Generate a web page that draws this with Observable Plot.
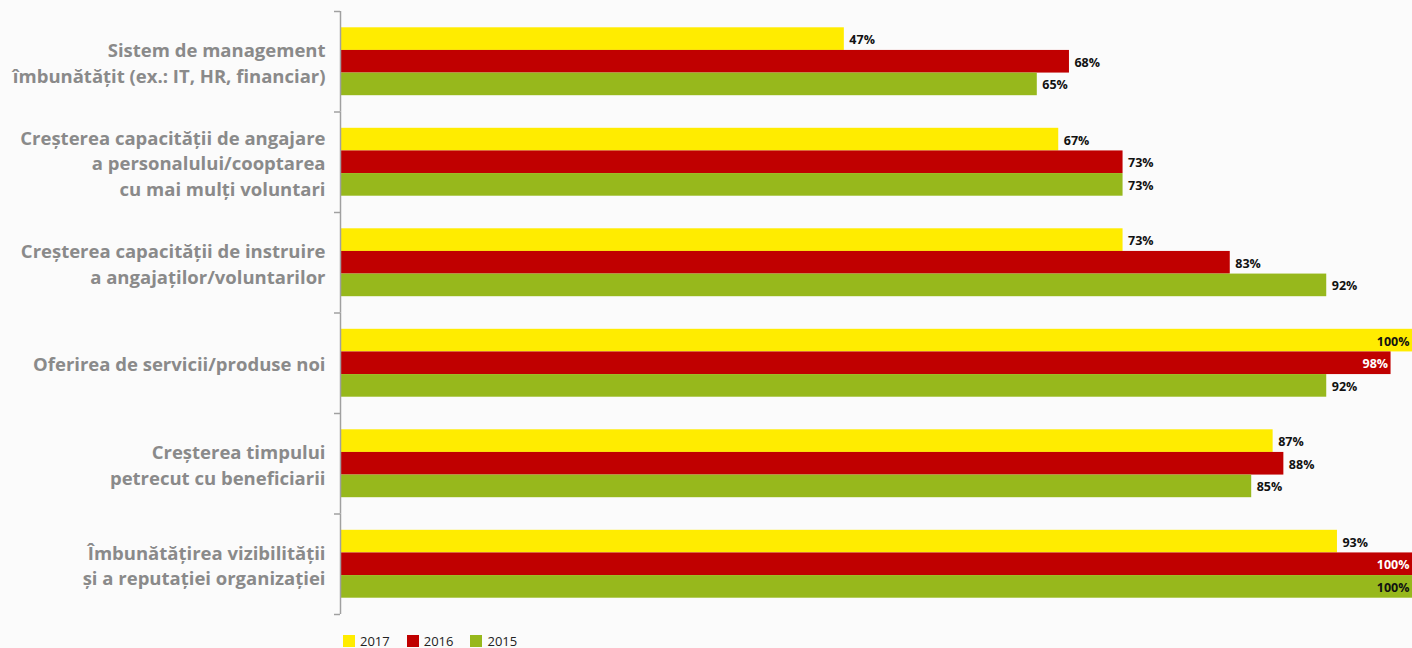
<!DOCTYPE html>
<html>
<head>
<meta charset="utf-8">
<script src="https://cdn.jsdelivr.net/npm/d3@7"></script>
<script src="https://cdn.jsdelivr.net/npm/@observablehq/plot@0.6"></script>
<style>
  html, body { margin: 0; padding: 0; background: #fbfbfb; }
  #chart { width: 1412px; }
  #chart svg { display: block; }
  .legend { display: flex; align-items: center; height: 14px; line-height: 14px; margin-left: 343px; padding-top: 10px; font-family: "Open Sans", sans-serif; font-size: 13px; color: #222; }
  .legend .item { display: flex; align-items: center; margin-right: 17px; }
  .legend .sw { width: 12px; height: 12px; margin-right: 5px; }
</style>
</head>
<body>
<div id="chart"></div>
<script>
const categories = [
  "Sistem de management\nîmbunătățit (ex.: IT, HR, financiar)",
  "Creșterea capacității de angajare\na personalului/cooptarea\ncu mai mulți voluntari",
  "Creșterea capacității de instruire\na angajaților/voluntarilor",
  "Oferirea de servicii/produse noi",
  "Creșterea timpului\npetrecut cu beneficiarii",
  "Îmbunătățirea vizibilității\nși a reputației organizației"
];
const years = ["2017", "2016", "2015"];
const values2017 = [47, 67, 73, 100, 87, 93];
const values2016 = [68, 73, 83, 98, 88, 100];
const values2015 = [65, 73, 92, 92, 85, 100];
const colors = ["#ffec00", "#c00000", "#97b81c"];
const labelColors = ["#111", "#fff", "#111"];

const series = [values2017, values2016, values2015];
const data = [];
categories.forEach((cat, i) => {
  years.forEach((yr, j) => data.push({cat, year: yr, value: series[j][i], labelFill: labelColors[j]}));
});

const W = 1412, H = 624, mTop = 11, mBottom = 10, mLeft = 340;
const yPadOuter = 0.72;
const facetStep = (H - mTop - mBottom) / categories.length;
const yStep = facetStep / (years.length + 2 * yPadOuter);
const edgeOffset = yPadOuter * yStep + yStep / 2;
const inside = d => d.value >= 98;

const chart = Plot.plot({
  width: W,
  height: H,
  marginLeft: mLeft,
  marginRight: 0,
  marginTop: mTop,
  marginBottom: mBottom,
  style: {background: "transparent", fontFamily: "'Open Sans', sans-serif"},
  x: {domain: [0, 100], axis: null},
  y: {domain: years, paddingInner: 0, paddingOuter: yPadOuter, round: false, axis: null},
  fy: {domain: categories, padding: 0, round: false, label: null},
  color: {domain: years, range: colors},
  marks: [
    Plot.barX(data, {fy: "cat", y: "year", x: "value", fill: "year"}),
    Plot.text(data.filter(d => !inside(d)), {fy: "cat", y: "year", x: "value", text: d => d.value + "%", textAnchor: "start", dx: 5, dy: 1, fontSize: 12.5, fontWeight: 700, fill: "#111"}),
    Plot.text(data.filter(inside), {fy: "cat", y: "year", x: "value", text: d => d.value + "%", textAnchor: "end", dx: -3, dy: 1, fontSize: 12.5, fontWeight: 700, fill: "labelFill"}),
    Plot.ruleX([0], {stroke: "#a0a0a0", strokeWidth: 1.5}),
    Plot.ruleY(categories, {fy: d => d, y: () => years[0], x1: 0, x2: 0, insetLeft: -6, dy: -edgeOffset, stroke: "#a0a0a0", strokeWidth: 1.5}),
    Plot.ruleY(categories.slice(-1), {fy: d => d, y: () => years[years.length - 1], x1: 0, x2: 0, insetLeft: -6, dy: edgeOffset, stroke: "#a0a0a0", strokeWidth: 1.5}),
    Plot.axisFy({anchor: "left", tickSize: 0, tickPadding: 15, fontSize: 18.5, fontWeight: 700, fill: "#8a8a8a", lineHeight: 1.38, label: null})
  ]
});
document.getElementById("chart").appendChild(chart);

const legend = document.createElement("div");
legend.className = "legend";
years.forEach((yr, j) => {
  const item = document.createElement("div");
  item.className = "item";
  const sw = document.createElement("div");
  sw.className = "sw";
  sw.style.background = colors[j];
  const t = document.createElement("span");
  t.textContent = yr;
  item.appendChild(sw);
  item.appendChild(t);
  legend.appendChild(item);
});
document.getElementById("chart").appendChild(legend);
</script>
</body>
</html>
